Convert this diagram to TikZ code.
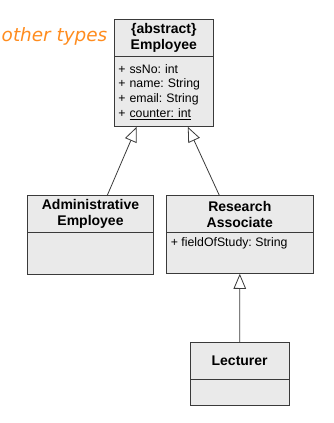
\documentclass[tikz,border=0pt]{standalone}
\usepackage{fontspec}
\setmainfont{Liberation Sans}
\newfontfamily\notefont{DejaVu Sans}
\usepackage{xcolor}
\usetikzlibrary{arrows.meta,positioning}
\definecolor{boxgray}{RGB}{234,234,234}
\definecolor{edgegray}{RGB}{58,58,58}
\definecolor{noteorange}{RGB}{255,140,30}
\frenchspacing

\begin{document}
\begin{tikzpicture}[x=1pt,y=-1pt,node distance=0pt,
  part/.style={draw=edgegray,line width=0.9pt,fill=boxgray,inner sep=0pt,outer sep=0pt},
  umltitle/.style={part,align=center,minimum height=37.5pt,font=\fontsize{14}{16}\selectfont\bfseries},
  umlbody/.style={part,align=left,font=\fontsize{12.3}{14.7}\selectfont},
  attr/.style={inner sep=0pt,anchor=north west,font=\fontsize{12.3}{14.7}\selectfont},
  inherit/.style={draw=edgegray,line width=0.8pt,-{Triangle[open,length=15pt,width=12.5pt,fill=white]}}]
\useasboundingbox (0,0) rectangle (333,423);
\node[anchor=base east,inner sep=0pt,text=noteorange,font=\notefont\itshape\fontsize{18.4}{22}\selectfont] (note) at (107.5,41) {other types};
\node[umltitle,minimum width=99pt,anchor=north west] (emptitle) at (114.3,19.3) {\{abstract\}\\Employee};
\node[umlbody,minimum width=99pt,minimum height=70pt,below=of emptitle,text width=91pt] (empbody) {+ ssNo: int\\+ name: String\\+ email: String\\+ \underline{counter: int}};
\node[umltitle,minimum width=126.4pt,anchor=north west] (admtitle) at (27.3,195.3) {Administrative\\Employee};
\node[umlbody,minimum width=126.4pt,minimum height=41.3pt,below=of admtitle] (admbody) {};
\node[umltitle,minimum width=147pt,anchor=north west] (restitle) at (166.3,195.3) {Research\\Associate};
\node[umlbody,minimum width=147pt,minimum height=41pt,below=of restitle] (resbody) {};
\node[attr] (resattr) at ([xshift=4.4pt,yshift=-5pt]resbody.north west) {+ fieldOfStudy: String};
\node[umltitle,minimum width=99.3pt,anchor=north west] (lectitle) at (190,342.3) {Lecturer};
\node[umlbody,minimum width=99.3pt,minimum height=25.3pt,below=of lectitle] (lecbody) {};
\draw[inherit] ([xshift=16.8pt]admtitle.north) -- ([xshift=-27.1pt]empbody.south);
\draw[inherit] ([xshift=-20.5pt]restitle.north) -- ([xshift=24pt]empbody.south);
\draw[inherit] (lectitle.north) -- (resbody.south);
\end{tikzpicture}
\end{document}
